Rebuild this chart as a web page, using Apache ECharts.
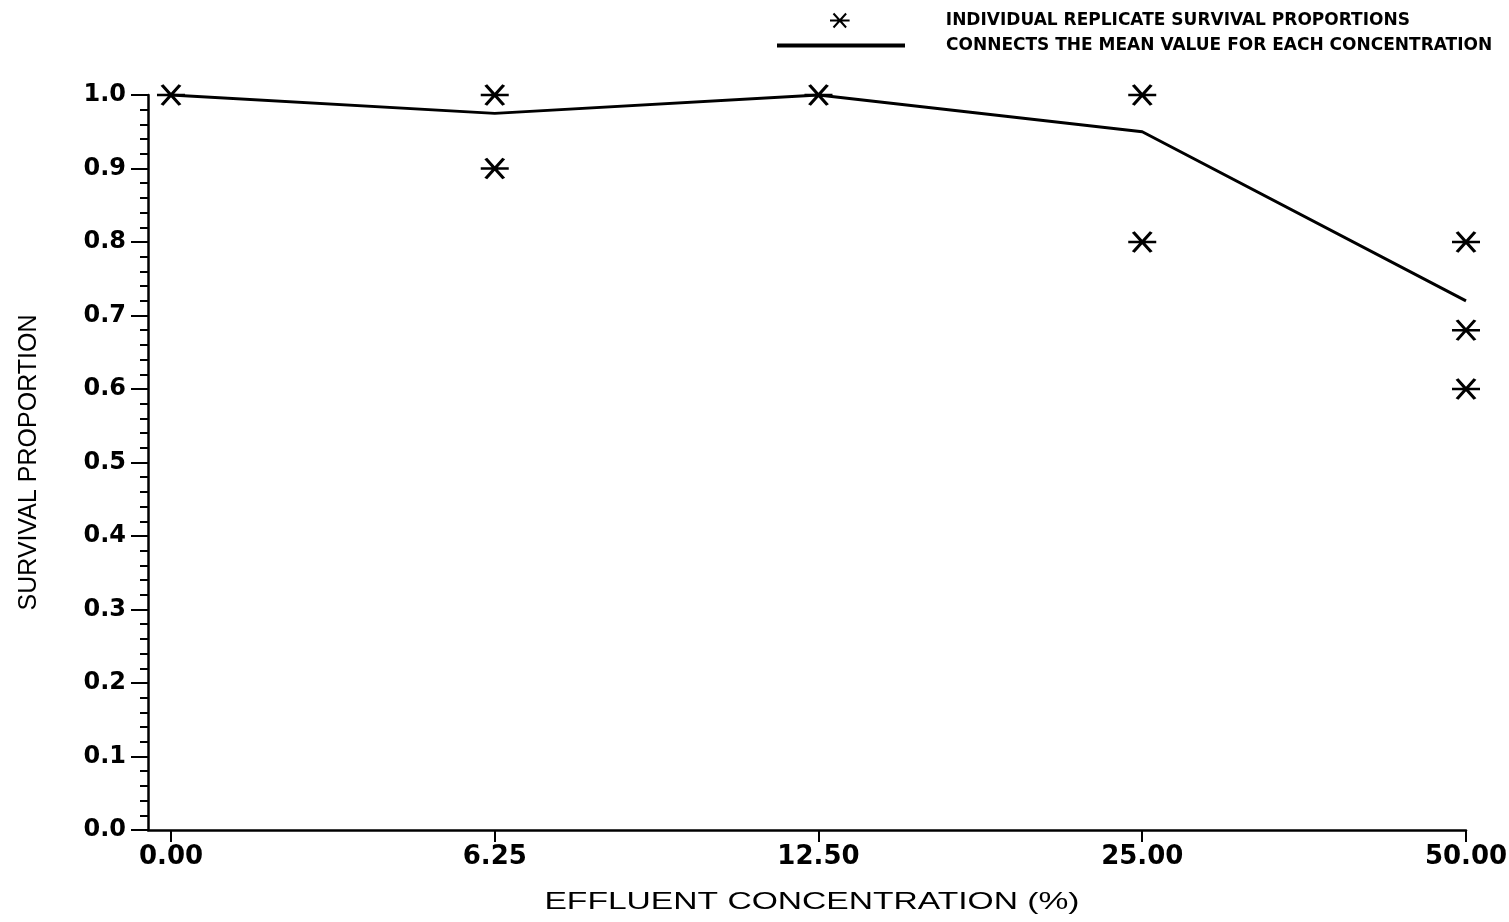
<!DOCTYPE html>
<html>
<head>
<meta charset="utf-8">
<title>Survival proportion vs effluent concentration</title>
<script src="https://cdn.jsdelivr.net/npm/echarts@6/dist/echarts.min.js"></script>
<style>
  html, body { margin: 0; padding: 0; background: #fff; }
  #chart { width: 1509px; height: 922px; }
</style>
</head>
<body>
<div id="chart"></div>
<script>
// Effluent concentrations tested (%), one category per position on the x axis
const concLabels = ['0.00', '6.25', '12.50', '25.00', '50.00'];

// Distinct replicate survival proportions observed at each concentration
const replicateValues = [
  [1.0],
  [1.0, 0.9],
  [1.0],
  [1.0, 0.8],
  [0.8, 0.68, 0.6]
];

// Mean survival proportion at each concentration
const meanSurvival = [1.0, 0.975, 1.0, 0.95, 0.72];

// Y-axis range and step
const yMin = 0, yMax = 1.0, yStep = 0.1;

const SERIES_POINTS = 'INDIVIDUAL REPLICATE SURVIVAL PROPORTIONS';
const SERIES_MEAN = 'CONNECTS THE MEAN VALUE FOR EACH CONCENTRATION';

// Asterisk marker: horizontal bar crossed by two diagonals
const starPath = 'path://M0,10H28M5,0L23,20M23,0L5,20';

const pointData = [];
replicateValues.forEach((vals, i) => vals.forEach(v => pointData.push([i, v])));
const meanData = meanSurvival.map((v, i) => [i, v]);
const catIdx = concLabels.map((_, i) => i);

const chart = echarts.init(document.getElementById('chart'), null, { renderer: 'canvas' });

const tickFont = 'DejaVu Sans';

chart.setOption({
  backgroundColor: '#ffffff',
  animation: false,
  grid: { left: 148, right: 43, top: 95, bottom: 92, outerBoundsMode: 'none' },
  legend: [
    {
      left: 829, top: 12, padding: 0,
      itemWidth: 22, itemHeight: 14,
      selectedMode: false,
      data: [{
        name: SERIES_POINTS,
        icon: starPath,
        itemStyle: { color: 'transparent', borderColor: '#000', borderWidth: 2 }
      }],
      textStyle: { fontFamily: tickFont, fontWeight: 'bold', fontSize: 17, color: '#000', padding: [0, 0, 0, 90] }
    },
    {
      left: 777, top: 37, padding: 0,
      itemWidth: 128, itemHeight: 4,
      selectedMode: false,
      data: [{ name: SERIES_MEAN, icon: 'rect', itemStyle: { color: '#000' } }],
      textStyle: { fontFamily: tickFont, fontWeight: 'bold', fontSize: 17, color: '#000', padding: [0, 0, 0, 36] }
    }
  ],
  xAxis: {
    type: 'value',
    min: -0.071,
    max: concLabels.length - 1,
    splitLine: { show: false },
    axisLine: { onZero: false, lineStyle: { color: '#000', width: 2.5 } },
    axisTick: { customValues: catIdx, length: 12, lineStyle: { color: '#000', width: 2 } },
    axisLabel: {
      customValues: catIdx,
      formatter: v => concLabels[Math.round(v)],
      margin: 14,
      fontFamily: tickFont, fontWeight: 'bold', fontSize: 26, color: '#000'
    }
  },
  yAxis: {
    type: 'value',
    min: yMin, max: yMax, interval: yStep,
    name: 'SURVIVAL PROPORTION',
    nameLocation: 'middle',
    nameGap: 106,
    nameTextStyle: { fontFamily: 'Liberation Sans', fontSize: 25, color: '#000' },
    splitLine: { show: false },
    axisLine: { show: true, onZero: false, lineStyle: { color: '#000', width: 2.5 } },
    axisTick: { show: true, length: 17, lineStyle: { color: '#000', width: 2 } },
    minorTick: { show: true, splitNumber: 5, length: 8, lineStyle: { color: '#000', width: 2 } },
    axisLabel: {
      formatter: v => v.toFixed(1),
      margin: 22,
      fontFamily: tickFont, fontWeight: 'bold', fontSize: 24, color: '#000'
    }
  },
  graphic: [{
    type: 'text',
    x: 812, y: 902,
    style: {
      text: 'EFFLUENT CONCENTRATION (%)',
      x: 0, y: 0,
      align: 'center', verticalAlign: 'middle',
      font: '24px "Liberation Sans"',
      fill: '#000'
    },
    scaleX: 1.4
  }],
  series: [
    {
      name: SERIES_MEAN,
      type: 'line',
      data: meanData,
      symbol: 'none',
      lineStyle: { color: '#000', width: 3 },
      itemStyle: { color: '#000' },
      z: 2
    },
    {
      name: SERIES_POINTS,
      type: 'scatter',
      data: pointData,
      symbol: starPath,
      symbolSize: [28, 20],
      itemStyle: { color: 'transparent', borderColor: '#000', borderWidth: 2.8, opacity: 1 },
      z: 3
    }
  ]
});
</script>
</body>
</html>
